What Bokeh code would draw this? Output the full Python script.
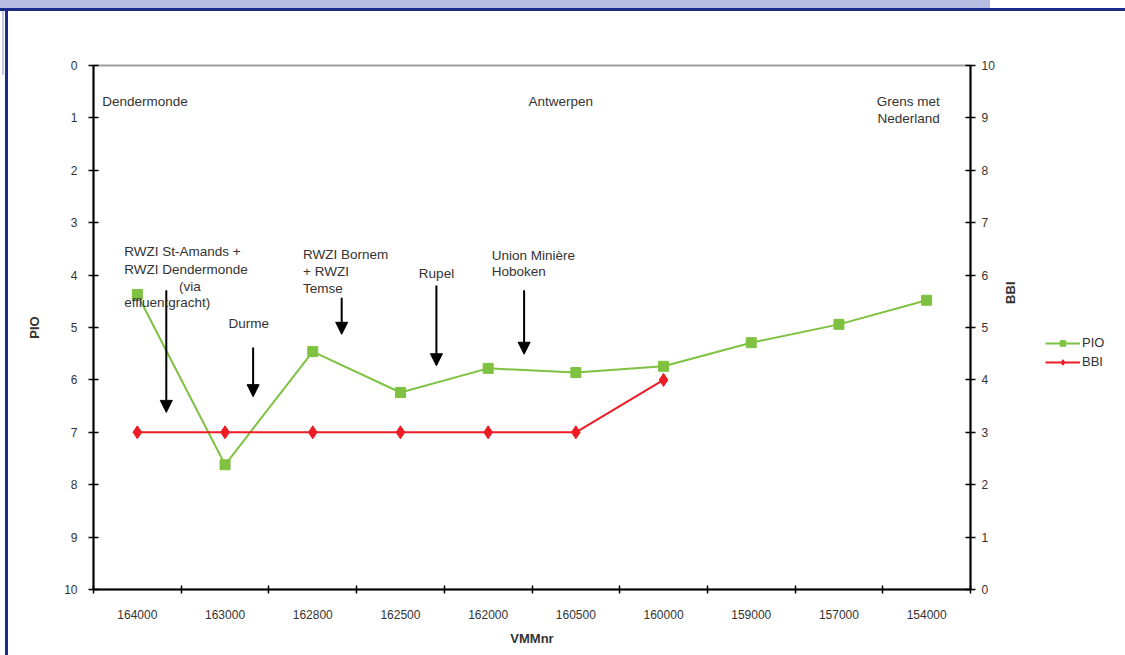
from bokeh.plotting import figure
from bokeh.layouts import row
from bokeh.models import (Range1d, LinearAxis, FixedTicker, Arrow, NormalHead, Label,
                          Legend, LegendItem, InlineStyleSheet)
from bokeh.embed import file_html
from bokeh.resources import INLINE

# ---- data ----
categories = ["164000", "163000", "162800", "162500", "162000",
              "160500", "160000", "159000", "157000", "154000"]
pio = [4.37, 7.62, 5.46, 6.24, 5.78, 5.86, 5.74, 5.29, 4.94, 4.48]
bbi = [3, 3, 3, 3, 3, 3, 4]
y_ticks = list(range(0, 11))

FONT = "Liberation Sans"
GREEN = "#7fc241"
RED = "#ed1c24"
TXT = "#333333"

xs = [i + 0.5 for i in range(len(categories))]

p = figure(frame_width=879, frame_height=524, x_range=Range1d(0, 10), y_range=Range1d(10, 0),
           output_backend="svg", toolbar_location=None,
           min_border_left=93, min_border_right=0, min_border_top=65, min_border_bottom=66)
p.extra_y_ranges = {"bbi": Range1d(0, 10)}
p.xgrid.visible = False
p.ygrid.visible = False
p.outline_line_color = "#a0a0a0"
p.outline_line_width = 2
p.background_fill_color = "white"
p.border_fill_color = None

# x axis: labels at category centres, ticks at boundaries
xa = p.xaxis[0]
xa.ticker = FixedTicker(ticks=xs, minor_ticks=list(range(0, 11)))
xa.major_label_overrides = {x: c for x, c in zip(xs, categories)}
xa.major_tick_in = 0
xa.major_tick_out = 0
xa.minor_tick_in = 4
xa.minor_tick_out = 4
xa.minor_tick_line_color = "black"
xa.minor_tick_line_width = 1.5
xa.axis_line_color = "black"
xa.axis_line_width = 2
xa.major_label_standoff = 16
xa.major_label_text_font = FONT
xa.major_label_text_font_size = "12px"
xa.major_label_text_color = TXT
xa.axis_label = "VMMnr"
xa.axis_label_text_font = FONT
xa.axis_label_text_font_size = "13px"
xa.axis_label_text_font_style = "bold"
xa.axis_label_text_color = TXT
xa.axis_label_standoff = 9

ya = p.yaxis[0]
ya.ticker = FixedTicker(ticks=y_ticks)
ya.major_tick_in = 5
ya.major_tick_out = 5
ya.minor_tick_line_color = None
ya.axis_line_color = "black"
ya.axis_line_width = 2
ya.major_tick_line_width = 1.5
ya.major_label_standoff = 11
ya.major_label_text_font = FONT
ya.major_label_text_font_size = "12px"
ya.major_label_text_color = TXT
ya.axis_label = "PIO"
ya.axis_label_text_font = FONT
ya.axis_label_text_font_size = "13px"
ya.axis_label_text_font_style = "bold"
ya.axis_label_text_color = TXT
ya.axis_label_standoff = 19

ra = LinearAxis(y_range_name="bbi", ticker=FixedTicker(ticks=y_ticks))
ra.major_tick_in = 5
ra.major_tick_out = 5
ra.minor_tick_line_color = None
ra.axis_line_color = "black"
ra.axis_line_width = 2
ra.major_tick_line_width = 1.5
ra.major_label_standoff = 6
ra.major_label_text_font = FONT
ra.major_label_text_font_size = "12px"
ra.major_label_text_color = TXT
p.add_layout(ra, "right")

# series
pio_line = p.line(xs, pio, line_color=GREEN, line_width=2)
pio_pts = p.scatter(xs, pio, marker="square", size=10, fill_color=GREEN, line_color=GREEN)
bx = xs[:len(bbi)]
bbi_line = p.line(bx, bbi, line_color=RED, line_width=2, y_range_name="bbi")
bbi_pts = p.scatter(bx, bbi, marker="diamond", size=13, fill_color=RED, line_color=RED,
                    y_range_name="bbi")

# arrows
arrow_x = [0.83, 1.82, 2.83, 3.91, 4.91]
arrow_y0 = [4.29, 5.38, 4.43, 4.20, 4.29]
arrow_y1 = [6.62, 6.32, 5.13, 5.73, 5.51]
for ax_, a0, a1 in zip(arrow_x, arrow_y0, arrow_y1):
    p.add_layout(Arrow(end=NormalHead(size=12, fill_color="black", line_color="black"),
                       x_start=ax_, y_start=a0, x_end=ax_, y_end=a1,
                       line_color="black", line_width=2))

# annotation texts (x, y, text, align)
notes = [
    (0.10, 0.69, "Dendermonde", "left"),
    (4.96, 0.69, "Antwerpen", "left"),
    (9.65, 0.69, "Grens met", "right"),
    (9.65, 1.01, "Nederland", "right"),
    (0.35, 3.55, "RWZI St-Amands +", "left"),
    (0.35, 3.89, "RWZI Dendermonde", "left"),
    (1.10, 4.22, "(via", "center"),
    (0.35, 4.52, "effluentgracht)", "left"),
    (1.54, 4.92, "Durme", "left"),
    (2.39, 3.61, "RWZI Bornem", "left"),
    (2.39, 3.93, "+ RWZI", "left"),
    (2.39, 4.26, "Temse", "left"),
    (3.71, 3.97, "Rupel", "left"),
    (4.54, 3.63, "Union Minière", "left"),
    (4.54, 3.93, "Hoboken", "left"),
]
for x, y, t, al in notes:
    p.add_layout(Label(x=x, y=y, text=t, text_align=al, text_baseline="middle",
                       text_font=FONT, text_font_size="13.5px", text_color=TXT))

# ---- side strip holding the BBI title and the legend ----
W2 = 128
p2 = figure(width=W2, height=655, x_range=Range1d(0, W2), y_range=Range1d(655, 0),
            output_backend="svg", toolbar_location=None,
            x_axis_location=None, y_axis_location=None, min_border=0)
p2.xgrid.visible = False
p2.ygrid.visible = False
p2.outline_line_color = None
p2.background_fill_color = None
p2.border_fill_color = None

# legend sample renderers (one point each, kept outside the visible strip)
off = [-100]
leg_pio_line = p2.line(off, off, line_color=GREEN, line_width=2)
leg_pio_pts = p2.scatter(off, off, marker="square", size=10, fill_color=GREEN, line_color=GREEN)
leg_bbi_line = p2.line(off, off, line_color=RED, line_width=2)
leg_bbi_pts = p2.scatter(off, off, marker="diamond", size=13, fill_color=RED, line_color=RED)

p2.add_layout(Label(x=13, y=284, text="BBI", angle=1.5708, text_align="center",
                    text_baseline="middle", text_font=FONT, text_font_size="13px",
                    text_font_style="bold", text_color=TXT))

legend = Legend(items=[LegendItem(label="PIO", renderers=[leg_pio_line, leg_pio_pts]),
                       LegendItem(label="BBI", renderers=[leg_bbi_line, leg_bbi_pts])],
                location=(48, 220), border_line_color=None, background_fill_alpha=0,
                glyph_width=35, glyph_height=14, label_text_font=FONT,
                label_text_font_size="13px", label_text_color=TXT,
                spacing=4, padding=0, margin=0, label_standoff=2)
p2.add_layout(legend)

layout = row(p, p2)

# page decoration (frame of the original document)
css = """
:host {
  background:
    linear-gradient(#b7bde0, #b7bde0) 0px 0px / 990px 8px no-repeat,
    linear-gradient(#1a2b8c, #1a2b8c) 0px 8px / 100% 3px no-repeat,
    linear-gradient(#1a2b8c, #1a2b8c) 5px 8px / 3px 100% no-repeat,
    linear-gradient(#c4c8e6, #c4c8e6) 2px 11px / 2px 64px no-repeat,
    white;
  width: 1125px;
}
"""
layout.stylesheets = [InlineStyleSheet(css=css)]

open("out.html", "w").write(file_html(layout, INLINE))
